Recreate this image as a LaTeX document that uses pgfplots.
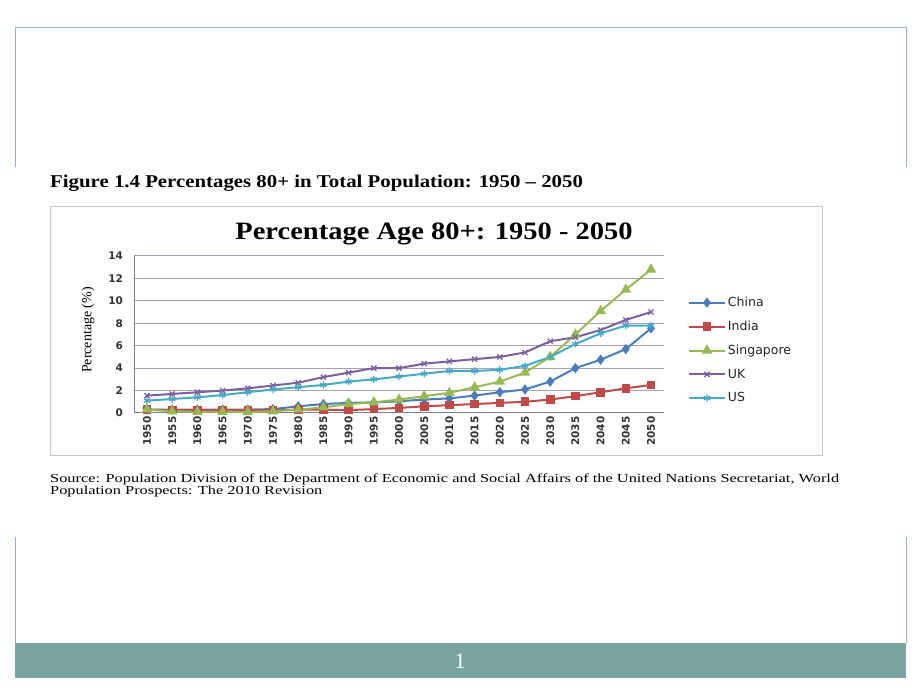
\documentclass[border=0pt]{standalone}
\usepackage{fontspec}
\setmainfont{Liberation Serif}
\newfontfamily\verd{DejaVu Sans}
\usepackage{pgfplots}
\pgfplotsset{compat=1.18}
\definecolor{chinaC}{RGB}{74,126,187}
\definecolor{indiaC}{RGB}{190,75,72}
\definecolor{singC}{RGB}{152,185,84}
\definecolor{ukC}{RGB}{125,96,160}
\definecolor{usC}{RGB}{70,170,197}
\definecolor{gridc}{RGB}{175,158,186}
\definecolor{framec}{RGB}{150,180,190}
\definecolor{barc}{RGB}{122,164,160}
\begin{document}
\begin{tikzpicture}[x=1pt,y=1pt]
\useasboundingbox (0pt,0pt) rectangle (920pt,690pt);
\fill[white] (0pt,0pt) rectangle (920pt,690pt);
% slide frame
\draw[framec, line width=0.8pt] (15pt,523pt) -- (15pt,663pt) -- (906pt,663pt) -- (906pt,523pt);
\draw[framec, line width=0.8pt] (15pt,153pt) -- (15pt,47pt);
\draw[framec, line width=0.8pt] (906pt,153pt) -- (906pt,47pt);
\fill[barc] (15pt,47pt) rectangle (906pt,12pt);
\node[white, font=\fontsize{22}{22}\selectfont] at (460pt,29pt) {1};
% caption
\node[anchor=base west, inner sep=0pt, font=\fontsize{18}{18}\selectfont\bfseries] at (50pt,502pt) {\scalebox{1.157}[1]{Figure 1.4 Percentages 80+ in Total Population: 1950 -- 2050}};
% chart box
\draw[gray!45, line width=0.8pt] (50pt,484pt) rectangle (822pt,235pt);
\node[anchor=base, inner sep=0pt, font=\fontsize{25}{26}\selectfont\bfseries] at (434pt,450pt) {\scalebox{1.14}[1]{Percentage Age 80+: 1950 - 2050}};
\node[rotate=90, font=\fontsize{14}{14}\selectfont] at (88pt,360pt) {Percentage (\%)};
% source
\node[anchor=base west, inner sep=0pt, font=\fontsize{12.3}{12}\selectfont] at (50pt,207.5pt) {\scalebox{1.33}[1]{Source: Population Division of the Department of Economic and Social Affairs of the United Nations Secretariat, World}};
\node[anchor=base west, inner sep=0pt, font=\fontsize{12.3}{12}\selectfont] at (50pt,195pt) {\scalebox{1.33}[1]{Population Prospects: The 2010 Revision}};
\begin{axis}[
  at={(134.4pt,277pt)}, anchor=south west,
  width=529.2pt, height=157pt, scale only axis,
  xmin=1947.5, xmax=2052.5, ymin=0, ymax=14,
  xtick={1950,1955,...,2050}, ytick={0,2,...,14},
  ymajorgrids, grid style={gridc, line width=1pt},
  axis x line*=bottom, axis y line*=left,
  axis line style={gray, line width=1pt, -},
  major tick length=0,
  /pgf/number format/assume math mode=true,
  /pgf/number format/1000 sep={},
  x tick label style={rotate=90, anchor=east, font=\verd\bfseries\fontsize{10.5}{11}\selectfont, text=black!80},
  y tick label style={font=\verd\bfseries\fontsize{10.5}{11}\selectfont, text=black!80, xshift=-8pt},
  legend style={at={(1.04,0.765)}, anchor=north west, draw=none, fill=none,
    font=\verd\fontsize{12.5}{13}\selectfont, row sep=9pt, text=black!85},
  legend cell align=left,
  legend image code/.code={\draw[mark repeat=2,mark phase=2,#1] plot coordinates {(0pt,0pt) (18pt,0pt) (36pt,0pt)};},
  every axis plot/.append style={line width=2pt, mark options={solid}},
]
\addplot[chinaC, mark=diamond*, mark size=3.6pt] coordinates {
(1950,0.3)(1955,0.3)(1960,0.3)(1965,0.3)(1970,0.3)(1975,0.35)(1980,0.6)(1985,0.8)(1990,0.9)(1995,0.95)(2000,1.05)(2005,1.2)(2010,1.3)(2015,1.55)(2020,1.85)(2025,2.1)(2030,2.8)(2035,4.0)(2040,4.75)(2045,5.7)(2050,7.55)};
\addlegendentry{China}
\addplot[indiaC, mark=square*, mark size=3.3pt] coordinates {
(1950,0.3)(1955,0.25)(1960,0.25)(1965,0.25)(1970,0.25)(1975,0.25)(1980,0.3)(1985,0.3)(1990,0.25)(1995,0.35)(2000,0.45)(2005,0.6)(2010,0.7)(2015,0.8)(2020,0.9)(2025,1.0)(2030,1.2)(2035,1.5)(2040,1.85)(2045,2.2)(2050,2.5)};
\addlegendentry{India}
\addplot[singC, mark=triangle*, mark size=4.2pt] coordinates {
(1950,0.3)(1955,0.15)(1960,0.1)(1965,0.12)(1970,0.1)(1975,0.15)(1980,0.3)(1985,0.5)(1990,0.8)(1995,0.95)(2000,1.2)(2005,1.5)(2010,1.8)(2015,2.3)(2020,2.8)(2025,3.6)(2030,5.0)(2035,7.0)(2040,9.1)(2045,11.0)(2050,12.8)};
\addlegendentry{Singapore}
\addplot[ukC, mark=x, mark size=3.6pt, mark options={line width=1.3pt}] coordinates {
(1950,1.55)(1955,1.7)(1960,1.85)(1965,2.0)(1970,2.2)(1975,2.45)(1980,2.7)(1985,3.2)(1990,3.6)(1995,4.0)(2000,4.0)(2005,4.4)(2010,4.6)(2015,4.8)(2020,5.0)(2025,5.4)(2030,6.4)(2035,6.75)(2040,7.4)(2045,8.3)(2050,9.0)};
\addlegendentry{UK}
\addplot[usC, mark=asterisk, mark size=3.6pt, mark options={line width=1.3pt}] coordinates {
(1950,1.1)(1955,1.25)(1960,1.4)(1965,1.6)(1970,1.85)(1975,2.1)(1980,2.3)(1985,2.5)(1990,2.8)(1995,3.0)(2000,3.25)(2005,3.5)(2010,3.75)(2015,3.75)(2020,3.85)(2025,4.2)(2030,5.0)(2035,6.15)(2040,7.1)(2045,7.8)(2050,7.8)};
\addlegendentry{US}
\end{axis}
\end{tikzpicture}
\end{document}
